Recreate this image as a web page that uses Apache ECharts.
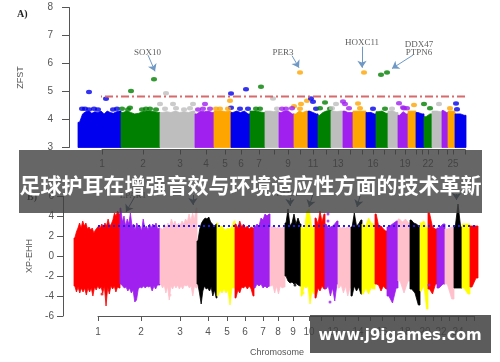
<!DOCTYPE html>
<html><head><meta charset="utf-8">
<script src="https://cdn.jsdelivr.net/npm/echarts@6/dist/echarts.min.js"></script>
<style>
html,body{margin:0;padding:0;background:#fff;overflow:hidden}
#wrap{position:relative;width:500px;height:362px}
#main{position:absolute;left:0;top:0;width:500px;height:362px;filter:blur(0.6px)}
#over{position:absolute;left:0;top:0;width:500px;height:362px}
</style></head><body>
<div id="wrap"><div id="main"></div><div id="over"></div></div>
<script>
// ---------- Panel A: ZFST ----------
const zfstColors = ['#0000ee','#008000','#bebebe','#a020f0','#ffa500'];
const zfstEdges = [78,121,160,195,214,231,250,265,279,294,308,318,331,343,353,366,376,388,398,408,416,424,432,442,448,455,466];
const zfstTops = [
 [3.9,4.2,4.28,4.3,4.22,4.28,4.25,4.3,4.2,4.3,4.25,4.22,4.28,4.3],
 [4.25,4.3,4.25,4.2,4.22,4.28,4.3,4.3,4.28,4.25],
 [4.25,4.28,4.25,4.3,4.25,4.28,4.25,4.3],
 [4.2,4.3,4.28,4.3,4.25],
 [4.3,4.3,4.3,4.28,4.3],
 [4.25,4.3,4.25,4.3,4.2],
 [4.3,4.3,4.28,4.25],
 [4.3,4.3,4.28,4.3],
 [4.25,4.3,4.3,4.2],
 [4.2,4.3,4.25,4.3],
 [4.3,4.25,4.2],
 [4.15,4.25,4.3,4.32],
 [4.3,4.28,4.3],
 [4.3,4.25,4.25],
 [4.3,4.3,4.3],
 [4.25,4.25,4.2],
 [4.28,4.3,4.22],
 [4.3,4.3,4.25],
 [4.15,4.28,4.2],
 [4.3,4.3],
 [4.25,4.2],
 [4.1,4.2],
 [4.3,4.3,4.28],
 [4.32,4.25],
 [4.3,4.3],
 [4.2,4.2,4.15]
];
const zfstPointX = [89,106,131,154,160,166,173,193,205,231,230,231,246,261,273,300,301,307,311,313,294,292,325,336,343,345,349,358,364,373,381,387,399,403,407,414,424,430,439,456,450,457,
 82,85,89,94,98,113,117,122,128,130,142,146,150,156,165,176,184,190,198,203,210,216,220,228,240,248,256,260,277,282,286,300,316,320,330,332,360,385,392,404];
const zfstPointY = [4.98,4.74,5.02,5.44,4.55,4.94,4.55,4.55,4.55,4.93,4.67,4.42,5.08,5.17,4.75,5.68,4.55,4.67,4.75,4.63,4.47,4.40,4.61,4.55,4.64,4.55,4.40,4.57,5.68,4.38,5.6,5.68,4.58,4.43,4.40,4.52,4.55,4.40,4.55,4.57,4.4,4.37,
 4.38,4.38,4.36,4.38,4.36,4.36,4.38,4.38,4.36,4.42,4.36,4.38,4.38,4.36,4.38,4.4,4.36,4.4,4.36,4.38,4.38,4.38,4.38,4.38,4.38,4.38,4.38,4.38,4.38,4.38,4.38,4.38,4.38,4.4,4.38,4.4,4.4,4.38,4.38,4.4];
const zfstThreshold = 4.82;
const zfstTickPos = [102,143,180,206,225,241,259,274,288,300,313,326,338,350,362,373,384,395,405,416,422,428,438,447,453,465];
const zfstTickLabel = {102:'1',143:'2',180:'3',206:'4',225:'5',241:'6',259:'7',288:'9',313:'11',338:'13',373:'16',405:'19',428:'22',453:'25'};

// ---------- Panel B: XP-EHH ----------
const xpColors = ['#ff0000','#a020f0','#ffc0cb','#000000','#ffff00'];
const xpEdges = [74,120,160,197,217,235,254,270,285,301,315,325,338,351,362,375,387,398,410,420,428,437,445,454,462,470,478];
const xpTops = [
 [1.8,2.4,2.8,3.3,2.8,3.5,3.0,3.3,2.7,2.9,2.6,2.8,2.3,2.6,2.8,3.0,2.8,3.2,2.9,3.3,3.0,3.7,3.0,3.2,3.6,4.3,4.0,4.5,4.2],
 [4.8,3.4,4.0,3.0,3.7,3.2,4.3,3.0,3.2,2.6,3.3,2.8,3.0,2.5,3.7,2.8,3.0,2.6,3.2,2.8,3.2,2.9,3.3,2.7,2.8],
 [2.8,2.6,3.2,2.8,3.3,3.0,3.7,3.1,3.5,3.0,3.3,3.1,3.5,3.2,3.7,3.4,4.2,3.5,4.3,3.6,4.8],
 [1.5,2.7,3.3,3.6,3.8,3.7,3.9,3.4,3.2,2.9,3.2],
 [3.3,2.9,3.0,2.7,2.6,2.8,2.7,3.0,3.5],
 [3.2,2.8,3.5,2.9,3.2,2.8,3.0,2.7,2.9,2.8],
 [2.9,3.2,3.0,3.8,3.6,4.2,4.0,4.2],
 [2.9,3.0,2.8,2.9,2.8,2.9],
 [3.3,4.7,3.0,3.3,4.2,3.2,3.8,3.2],
 [2.9,2.7,4.5,4.7,3.0,2.9],
 [3.8,3.2,4.5,3.4,4.2],
 [3.2,2.8,2.9,3.0,3.2,3.5],
 [2.9,2.8,2.9,2.8,2.9,2.9],
 [2.9,4.3,3.0,3.2,3.6],
 [3.2,3.0,3.8,3.3,3.2],
 [4.2,3.0,3.0,2.7,2.5],
 [2.9,3.1,3.3,3.5],
 [3.7,3.4,3.7,3.3],
 [3.6,3.3,3.2,3.0],
 [3.3,3.5,2.8],
 [4.3,2.9,2.7],
 [2.8,3.2],
 [2.7,2.9],
 [3.0,5.2,2.9],
 [3.2,3.2],
 [3.0,3.0]
];
const xpBottoms = [
 [-3.0,-3.6,-3.1,-3.7,-3.2,-3.6,-3.2,-3.9,-3.2,-3.6,-3.2,-4.0,-3.1,-3.4,-3.0,-3.3,-3.1,-3.7,-3.0,-5.0,-3.1,-3.8,-3.0,-3.3,-3.0,-3.6,-3.1,-3.2],
 [-2.8,-3.0,-3.2,-3.1,-3.5,-3.2,-3.7,-3.4,-4.6,-4.4,-3.3,-3.1,-3.2,-3.0,-3.2,-3.0,-3.1,-3.0,-3.5,-3.0,-3.3,-2.9,-2.9],
 [-2.8,-3.2,-2.9,-3.7,-3.0,-4.4,-3.0,-3.3,-2.9,-3.2,-2.9,-3.3,-3.0,-3.3,-2.9,-3.0,-2.9,-3.2,-3.0,-4.0,-3.0,-3.2],
 [-2.8,-3.7,-4.8,-3.5,-3.0,-3.3,-3.2,-3.5,-3.1,-4.0,-3.4,-4.2],
 [-4.0,-3.4,-3.7,-3.3,-3.7,-3.4,-4.9,-3.2,-3.2],
 [-4.2,-3.4,-3.7,-3.1,-3.2,-3.0,-3.3,-3.0,-3.3,-4.0],
 [-3.2,-2.8,-3.0,-2.8,-3.2,-3.0,-3.2,-3.0],
 [-3.0,-2.9,-3.7,-3.0,-3.8,-3.0,-3.2,-3.1],
 [-2.0,-2.5,-2.7,-2.6,-2.8,-2.7,-2.9,-3.0],
 [-4.0,-3.0,-3.2,-3.0,-4.8,-3.5,-3.8],
 [-4.2,-3.2,-3.5,-3.0,-3.3],
 [-3.3,-3.0,-4.0,-3.2,-4.5,-2.8],
 [-3.2,-2.9,-3.7,-3.0,-4.0,-3.2],
 [-4.0,-3.0,-3.5,-3.1,-3.8],
 [-3.8,-3.2,-3.8,-3.2,-3.3],
 [-2.8,-2.9,-3.5,-3.0,-3.3],
 [-4.0,-4.7,-3.2],
 [-2.5,-3.7,-2.5],
 [-3.3,-3.7,-4.9],
 [-3.5,-3.0,-5.3],
 [-3.3,-3.8,-2.8],
 [-3.2,-2.8],
 [-2.8,-4.3],
 [-3.2,-3.2],
 [-3.2,-3.8],
 [-3.1,-2.2]
];
const xpPointX = [328,328,102,170,295,303,330,429];
const xpPointY = [4.2,3.5,-3.8,-3.9,-2.9,-3.7,-4.6,-2.9];
const xpPointC = [1,1,0,2,3,4,1,1];
const xpThreshold = 3;
const xpTickPos = [98,141,180,208,227,245,263,278,293,309,321,333,345,358,370,382,394,405,415,425,433,441,449,458,466,474];
const xpTickLabel = {98:'1',141:'2',180:'3',208:'4',227:'5',245:'6',263:'7',278:'8',293:'9',309:'10',333:'12',358:'14',382:'16',405:'18',425:'20',441:'22',458:'24'};

// ---------- Annotations ----------
const zfstNotes = [['SOX10',147.5,6.4],['PER3',283,6.4],['HOXC11',362,6.75],['DDX47',419,6.68],['PTPN6',419,6.39]];
const zfstArrows = [[148,6.3,155,5.72],[292,6.28,299,5.85],[362,6.6,362,5.85],[413,6.3,392,5.82]];
const xpNotes = [['LPAR1',133,6.0],['PTK2',287,6.2]];
const xpArrows = [[134,5.8,126,4.4],[193,6.1,193,5.1],[290,5.8,290,5.0],[313,6.2,309,4.9],[360,6.0,357,4.9],[456.5,6.2,456.5,5.6]];

// one outlined shape per chromosome, its outline taken from the value lists above
function outline(row,lo,hi){
  const w=(hi-lo)/row.length, pts=[[lo,row[0]]];
  row.forEach((v,i)=>pts.push([lo+(i+0.5)*w,v]));
  pts.push([hi,row[row.length-1]]);
  return pts;
}
function chromItem(palette,edges,tops,bottoms,base){
  return (params,api)=>{
    const c=api.value(0), lo=edges[c], hi=edges[c+1];
    const upper=outline(tops[c],lo,hi);
    const lower=bottoms?outline(bottoms[c],lo,hi).reverse():[[hi,base],[lo,base]];
    const col=palette[c%5];
    return {type:'polygon',shape:{points:upper.concat(lower).map(p=>api.coord(p))},
      style:{fill:col,stroke:col,lineWidth:0.8,lineJoin:'round'}};
  };
}
function colorOf(palette,edges,x){
  let c=0; while(c<edges.length-2 && x>=edges[c+1]) c++;
  return palette[c%5];
}
const aPts = zfstPointX.map((x,i)=>({value:[x,zfstPointY[i]],itemStyle:{color:colorOf(zfstColors,zfstEdges,x)}}));
const bPts = xpPointX.map((x,i)=>({value:[x,xpPointY[i]],itemStyle:{color:xpColors[xpPointC[i]]}}));

function xAxisOf(idx,ticks,labels,offset,min,max,margin){
  return {gridIndex:idx,type:'value',min,max,position:'bottom',offset,
    splitLine:{show:false},
    axisLine:{show:true,onZero:false,lineStyle:{color:'#555',width:1}},
    axisTick:{show:true,length:5,customValues:ticks,lineStyle:{color:'#555',width:1}},
    axisLabel:{show:true,margin,fontSize:10,color:'#555',fontFamily:'Liberation Sans',
      customValues:Object.keys(labels).map(Number),formatter:v=>labels[v]||'',hideOverlap:false}};
}
function yAxisOf(idx,min,max,interval,offset,tick,margin,name,nameGap){
  return {gridIndex:idx,type:'value',min,max,interval,offset,
    name,nameLocation:'middle',nameGap,nameTextStyle:{fontSize:9,color:'#555',fontFamily:'Liberation Sans'},
    splitLine:{show:false},
    axisLine:{show:true,lineStyle:{color:'#555',width:1}},
    axisTick:{show:true,length:tick,lineStyle:{color:'#555',width:1}},
    axisLabel:{margin,fontSize:10,color:'#555',fontFamily:'Liberation Sans'}};
}
function arrowSeries(xi,yi,list,color){
  return {type:'lines',coordinateSystem:'cartesian2d',xAxisIndex:xi,yAxisIndex:yi,silent:true,clip:false,z:6,
    data:list.map(a=>({coords:[[a[0],a[1]],[a[2],a[3]]]})),
    symbol:['none','arrow'],symbolSize:7,
    lineStyle:{color,width:1,opacity:1,curveness:0},animation:false};
}
function noteSeries(xi,yi,list,color){
  return {type:'scatter',xAxisIndex:xi,yAxisIndex:yi,clip:false,symbolSize:0,z:7,silent:true,
    data:list.map(n=>({value:[n[1],n[2]],name:n[0]})),
    label:{show:true,position:'inside',formatter:p=>p.name,fontFamily:'Liberation Serif',fontSize:9,color}};
}
function thresholdSeries(xi,yi,x0,x1,v,color,dash,width){
  return {type:'line',xAxisIndex:xi,yAxisIndex:yi,clip:false,symbol:'none',z:8,silent:true,
    data:[[x0,v],[x1,v]],lineStyle:{color,type:dash,width}};
}
const chromIdsA = zfstTops.map((_,i)=>[i]);
const chromIdsB = xpTops.map((_,i)=>[i]);

const chart = echarts.init(document.getElementById('main'),null,{renderer:'canvas'});
chart.setOption({
  animation:false,backgroundColor:'#fff',
  grid:[{left:102,top:7.5,width:363,height:140},{left:98,top:196,width:376,height:120}],
  xAxis:[xAxisOf(0,zfstTickPos,zfstTickLabel,2,102,465,10),
         Object.assign(xAxisOf(1,xpTickPos,xpTickLabel,0,98,474,11),{name:'Chromosome',nameLocation:'middle',nameGap:32,
           nameTextStyle:{fontSize:9,color:'#555',fontFamily:'Liberation Sans',padding:[0,18,0,0]}})],
  yAxis:[yAxisOf(0,3,8,1,33,7,16,'ZFST',44),yAxisOf(1,-6,6,2,35,6,9,'XP-EHH',28)],
  series:[
    {type:'custom',xAxisIndex:0,yAxisIndex:0,clip:false,renderItem:chromItem(zfstColors,zfstEdges,zfstTops,null,3),data:chromIdsA,z:2},
    {type:'scatter',xAxisIndex:0,yAxisIndex:0,clip:false,symbol:'circle',symbolSize:[6,4.5],data:aPts,z:3},
    thresholdSeries(0,0,73,476,zfstThreshold,'#d9696a',[8,3,2,3],2),
    arrowSeries(0,0,zfstArrows,'#6f99c4'),
    noteSeries(0,0,zfstNotes,'#333'),
    {type:'custom',xAxisIndex:1,yAxisIndex:1,clip:false,renderItem:chromItem(xpColors,xpEdges,xpTops,xpBottoms),data:chromIdsB,z:2},
    {type:'scatter',xAxisIndex:1,yAxisIndex:1,clip:false,symbol:'circle',symbolSize:3,data:bPts,z:3},
    thresholdSeries(1,1,63,480,xpThreshold,'#2020ee',[2,3],2),
    arrowSeries(1,1,xpArrows,'#3d5a70'),
    noteSeries(1,1,xpNotes,'#333')
  ],
  graphic:[
    {type:'text',left:17,top:9,style:{text:'A)',font:'bold 10px "Liberation Serif"',fill:'#222'}},
    {type:'text',left:27,top:192,style:{text:'B)',font:'bold 10px "Liberation Serif"',fill:'#222'}}
  ]
});

const over = echarts.init(document.getElementById('over'),null,{renderer:'canvas'});
over.setOption({
  animation:false,
  graphic:[
    {type:'rect',shape:{x:19,y:150,width:463,height:63},style:{fill:'rgba(64,64,64,0.8)'}},
    {type:'text',x:250.5,y:185,style:{text:'足球护耳在增强音效与环境适应性方面的技术革新',
      font:'bold 21px "Noto Sans CJK SC"',fill:'#fff',align:'center',verticalAlign:'middle'}},
    {type:'rect',shape:{x:310,y:315,width:181,height:38},style:{fill:'rgba(64,64,64,0.85)'}},
    {type:'text',x:400,y:336,style:{text:'www.j9igames.com',
      font:'bold 15px "DejaVu Sans"',fill:'#fff',align:'center',verticalAlign:'middle'}}
  ]
});
</script>
</body></html>
